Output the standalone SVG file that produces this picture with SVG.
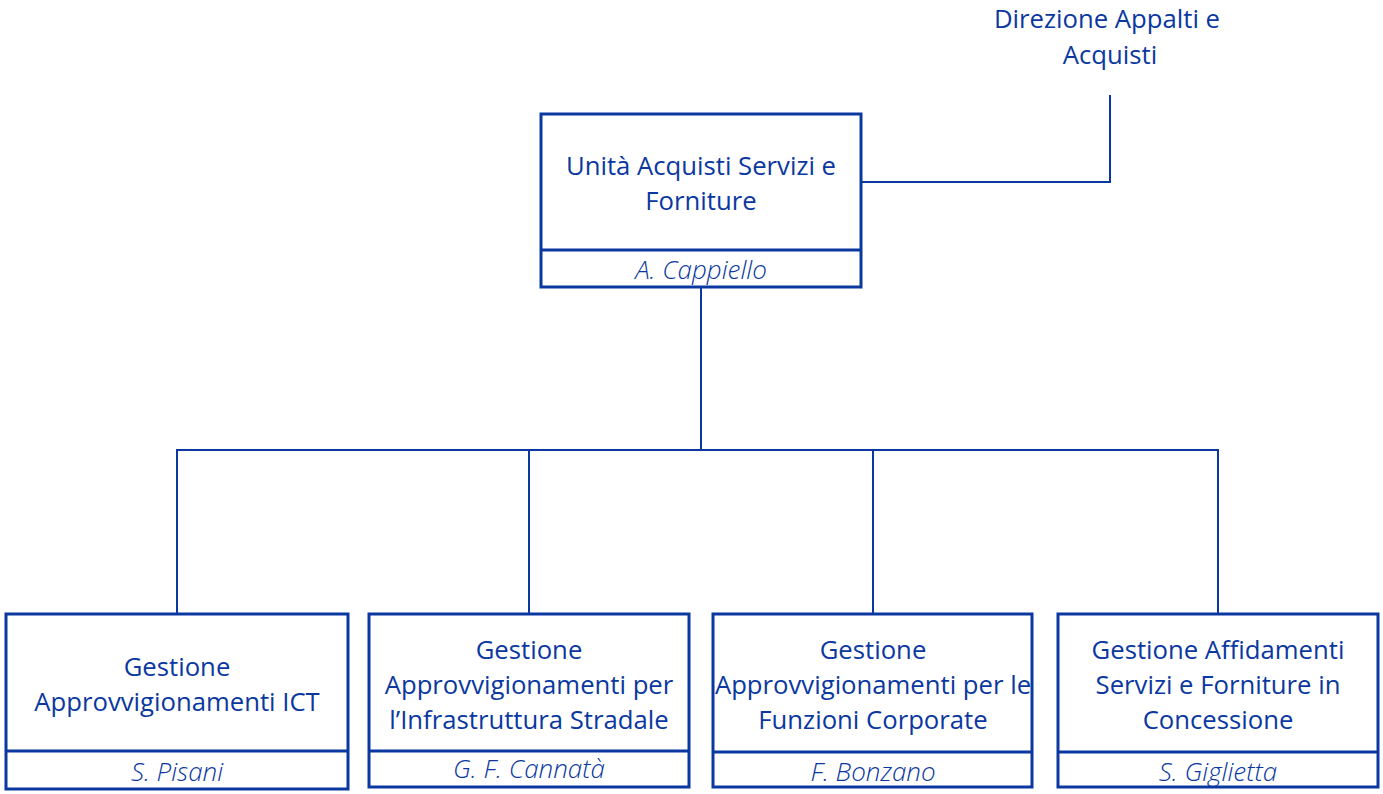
<svg xmlns="http://www.w3.org/2000/svg" width="1383" height="794" viewBox="0 0 1383 794">
<style>
.box{fill:#fff;stroke:#0a38a0;stroke-width:3}
.div{stroke:#0a38a0;stroke-width:3}
.ln{fill:none;stroke:#0a38a0;stroke-width:2}
.t{font-family:"Open Sans","Liberation Sans",sans-serif;font-size:25.7px;fill:#0a38a0;text-anchor:middle}
.n{font-family:"Open Sans","Liberation Sans",sans-serif;font-size:26px;font-style:italic;font-weight:300;fill:#0a38a0;text-anchor:middle}
</style>
<rect width="1383" height="794" fill="#fff"/>
<g id="connectors">
<polyline class="ln" points="861,182 1110,182 1110,95"/>
<line class="ln" x1="701" y1="287" x2="701" y2="450" stroke-width="2.5"/>
<polyline class="ln" points="177,614 177,450 1218,450 1218,614"/>
<line class="ln" x1="177" y1="450" x2="701" y2="450" stroke-width="2.5"/>
<line class="ln" x1="529" y1="450" x2="529" y2="614"/>
<line class="ln" x1="873" y1="450" x2="873" y2="614"/>
</g>
<g id="direzione">
<text class="t" x="1107" y="28">Direzione Appalti e</text>
<text class="t" x="1110" y="64">Acquisti</text>
</g>
<g id="unita">
<rect class="box" x="541" y="114" width="320" height="173"/>
<line class="div" x1="541" y1="250" x2="861" y2="250"/>
<text class="t" x="701" y="175">Unità Acquisti Servizi e</text>
<text class="t" x="701" y="210">Forniture</text>
<text class="n" x="701" y="279">A. Cappiello</text>
</g>
<g id="ict">
<rect class="box" x="6" y="614" width="342" height="175"/>
<line class="div" x1="6" y1="751" x2="348" y2="751"/>
<text class="t" x="177" y="676">Gestione</text>
<text class="t" x="177" y="711">Approvvigionamenti ICT</text>
<text class="n" x="177" y="781">S. Pisani</text>
</g>
<g id="infra">
<rect class="box" x="369" y="614" width="320" height="173"/>
<line class="div" x1="369" y1="751" x2="689" y2="751"/>
<text class="t" x="529" y="659">Gestione</text>
<text class="t" x="529" y="694">Approvvigionamenti per</text>
<text class="t" x="529" y="729">l’Infrastruttura Stradale</text>
<text class="n" x="529" y="778">G. F. Cannatà</text>
</g>
<g id="corporate">
<rect class="box" x="713" y="614" width="319" height="173"/>
<line class="div" x1="713" y1="752" x2="1032" y2="752"/>
<text class="t" x="873" y="659">Gestione</text>
<text class="t" x="873" y="694">Approvvigionamenti per le</text>
<text class="t" x="873" y="729">Funzioni Corporate</text>
<text class="n" x="873" y="781">F. Bonzano</text>
</g>
<g id="concessione">
<rect class="box" x="1058" y="614" width="320" height="173"/>
<line class="div" x1="1058" y1="752" x2="1378" y2="752"/>
<text class="t" x="1218" y="659">Gestione Affidamenti</text>
<text class="t" x="1218" y="694">Servizi e Forniture in</text>
<text class="t" x="1218" y="729">Concessione</text>
<text class="n" x="1218" y="781">S. Giglietta</text>
</g>
</svg>
